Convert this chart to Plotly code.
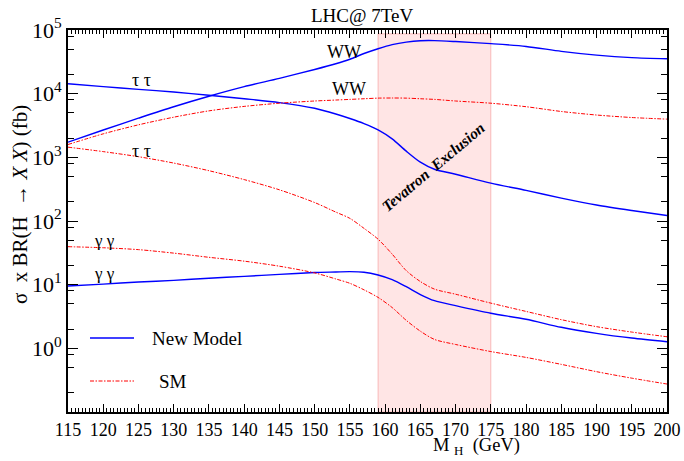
import plotly.graph_objects as go

# Higgs mass grid (GeV)
mass = [115, 120, 125, 130, 135, 140, 145, 150, 153, 155, 157, 159, 161,
        163, 165, 167, 170, 175, 180, 185, 190, 195, 200]

# sigma x BR (fb) for the new model
new_ww = [1730, 2690, 4120, 6240, 9120, 12900, 17400, 24000, 29500, 34700,
          42700, 50800, 58900, 64600, 67900, 68200, 65800, 61000, 55200,
          46200, 40300, 36800, 35400]
new_tautau = [14300, 12900, 11700, 10600, 9440, 8320, 7240, 5890, 4790, 4070,
              3390, 2700, 1950, 1250, 840, 650, 543, 394, 302, 229, 178, 146, 122]
new_gamgam = [9.55, 10.2, 11.0, 11.7, 12.6, 13.5, 14.5, 15.5, 15.8, 16.0, 15.7,
              14.2, 12.0, 9.3, 7.0, 5.6, 4.68, 3.55, 2.86, 2.14, 1.72, 1.45, 1.27]

# sigma x BR (fb) for the Standard Model
sm_ww = [1590, 2340, 3240, 4270, 5370, 6310, 7080, 7670, 7940, 8130, 8320,
         8510, 8550, 8510, 8320, 8130, 7670, 7080, 6240, 5250, 4620, 4220, 3980]
sm_tautau = [1445, 1230, 1023, 813, 617, 447, 309, 195, 138, 110, 76.7, 51.8,
             30.2, 16.6, 11.2, 8.51, 7.08, 5.13, 3.80, 2.82, 2.19, 1.80, 1.52]
sm_gamgam = [39.5, 38.0, 35.5, 31.3, 26.9, 23.4, 19.5, 15.3, 12.3, 10.5, 8.3,
             6.31, 4.37, 2.75, 1.86, 1.38, 1.15, 0.89, 0.72, 0.56, 0.43, 0.34, 0.275]

# Tevatron excluded mass window (GeV)
excl_lo, excl_hi = 159, 175

x_ticks = list(range(115, 201, 5))
y_major = [1, 10, 100, 1000, 10000, 100000]
y_major_text = ["10<sup>%d</sup>" % k for k in range(0, 6)]
y_minor = [m * 10 ** e for e in range(-1, 5) for m in (2, 5, 8)]

SERIF = "Liberation Serif, Times New Roman, serif"
BLUE = "#0000ff"
RED = "#ff0000"
RED_DASH = "4px,1.5px,1.5px,1.5px"

# plot-area geometry in pixels, used to place free text
L, R, T, B = 68, 667, 30, 412


def px(xp):
    return (xp - L) / (R - L)


def py(yp):
    return (B - yp) / (B - T)


fig = go.Figure()

for ys in (new_ww, new_tautau, new_gamgam):
    fig.add_trace(go.Scatter(x=mass, y=ys, mode="lines",
                             line=dict(color=BLUE, width=1.4, shape="spline", smoothing=0.8),
                             showlegend=False, hoverinfo="skip"))
for ys in (sm_ww, sm_tautau, sm_gamgam):
    fig.add_trace(go.Scatter(x=mass, y=ys, mode="lines",
                             line=dict(color=RED, width=1, dash=RED_DASH,
                                       shape="spline", smoothing=0.8),
                             showlegend=False, hoverinfo="skip"))

# exclusion band
fig.add_shape(type="rect", xref="x", yref="paper", x0=excl_lo, x1=excl_hi,
              y0=0, y1=0.99, fillcolor="rgba(255,0,0,0.1)",
              line=dict(color="rgba(240,120,120,0.45)", width=1), layer="below")

# legend drawn by hand
fig.add_shape(type="line", xref="paper", yref="paper", x0=px(90), x1=px(134),
              y0=py(338), y1=py(338), line=dict(color=BLUE, width=1.4))
fig.add_shape(type="line", xref="paper", yref="paper", x0=px(90), x1=px(134),
              y0=py(381), y1=py(381), line=dict(color=RED, width=1, dash=RED_DASH))

ann = []
ann.append(dict(text="New Model", xref="paper", yref="paper", x=px(150), y=py(338),
                xanchor="left", yanchor="middle", showarrow=False,
                font=dict(family=SERIF, size=19, color="black")))
ann.append(dict(text="SM", xref="paper", yref="paper", x=px(157), y=py(381),
                xanchor="left", yanchor="middle", showarrow=False,
                font=dict(family=SERIF, size=19, color="black")))

# curve labels (annotation y on a log axis is log10)
for txt, xm, ylog, fs in [("WW", 154.2, 4.66, 18), ("WW", 154.9, 4.077, 18),
                          ("τ τ", 125.4, 4.22, 18), ("τ τ", 125.4, 3.107, 18),
                          ("γ γ", 120.2, 1.687, 17), ("γ γ", 120.2, 1.17, 17)]:
    ann.append(dict(text=txt, x=xm, y=ylog, xref="x", yref="y", showarrow=False,
                    font=dict(family=SERIF, size=fs, color="black")))

ann.append(dict(text="<b><i>Tevatron  Exclusion</i></b>", x=166.9, y=2.85,
                xref="x", yref="y", showarrow=False, textangle=-40,
                font=dict(family=SERIF, size=15.5, color="black")))

ann.append(dict(text="LHC@ 7TeV", xref="paper", yref="paper", x=px(362),
                y=py(15), xanchor="center", yanchor="middle", showarrow=False,
                font=dict(family=SERIF, size=19, color="black")))

ann.append(dict(text="M <sub>H</sub>  (GeV)", xref="paper", yref="paper",
                x=px(476), y=py(460), xanchor="center",
                yanchor="bottom", showarrow=False,
                font=dict(family=SERIF, size=18.5, color="black")))

ann.append(dict(text="σ  x BR(H  → <i>X X</i>) (fb)", xref="paper", yref="paper",
                x=px(20), y=py(205), xanchor="center",
                yanchor="middle", showarrow=False, textangle=-90,
                font=dict(family=SERIF, size=21, color="black")))

fig.update_layout(
    width=684, height=461,
    margin=dict(l=L, r=684 - R, t=T, b=461 - B, autoexpand=False),
    paper_bgcolor="white", plot_bgcolor="white",
    annotations=ann,
    xaxis=dict(range=[115, 200], tickmode="array", tickvals=x_ticks, automargin=False,
               ticks="inside", ticklen=8, tickwidth=1.3, tickcolor="black",
               showline=True, linewidth=2, linecolor="black", mirror="allticks",
               showgrid=False, zeroline=False,
               tickfont=dict(family=SERIF, size=18, color="black"),
               minor=dict(tickmode="linear", tick0=115, dtick=0.5, ticks="inside",
                          ticklen=4, tickwidth=1, tickcolor="black", showgrid=False)),
    yaxis=dict(type="log", range=[-1, 5], tickmode="array", tickvals=y_major,
               ticktext=y_major_text, automargin=False,
               ticks="inside", ticklen=10, tickwidth=1.3,
               tickcolor="black", showline=True, linewidth=2, linecolor="black",
               mirror="allticks", showgrid=False, zeroline=False,
               tickfont=dict(family=SERIF, size=22, color="black"),
               minor=dict(tickmode="array", tickvals=y_minor, ticks="inside",
                          ticklen=6, tickwidth=1, tickcolor="black", showgrid=False)),
)

fig.write_html("out.html")
